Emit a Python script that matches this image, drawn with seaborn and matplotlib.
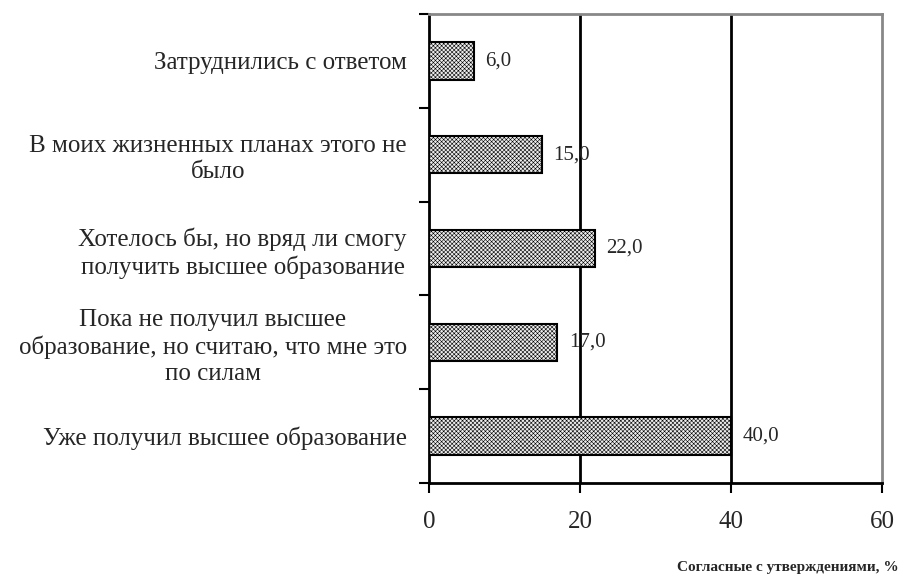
import matplotlib
matplotlib.use("Agg")
import matplotlib.pyplot as plt
import seaborn as sns
import pandas as pd
import numpy as np

categories = [
    "Затруднились с ответом",
    "В моих жизненных планах этого не\nбыло",
    "Хотелось бы, но вряд ли смогу\nполучить высшее образование",
    "Пока не получил высшее\nобразование, но считаю, что мне это\nпо силам",
    "Уже получил высшее образование",
]
values = [6.0, 15.0, 22.0, 17.0, 40.0]
value_labels = ["6,0", "15,0", "22,0", "17,0", "40,0"]
x_ticks = [0, 20, 40, 60]
x_title = "Согласные с утверждениями, %"

sns.set_theme(style="white")
plt.rcParams['font.family'] = ['Liberation Serif', 'DejaVu Serif']
plt.rcParams['hatch.color'] = '#a8a8a8'
plt.rcParams['hatch.linewidth'] = 0.4

df = pd.DataFrame({"cat": categories, "val": values})

fig = plt.figure(figsize=(9.02, 5.76), dpi=100)
ax = fig.add_axes([429/902, 1 - 483/576, (882-429)/902, (483-14)/576])

sns.barplot(data=df, x="val", y="cat", orient="h", ax=ax, width=0.4,
            color="#e0e0e0", edgecolor="black", linewidth=1.5, zorder=3)
for p in ax.patches:
    p.set_hatch("xxxxxxxx")
    p.set_facecolor("#ececec")
    p.set_edgecolor("black")

ax.set_xlim(0, 60)
ax.set_ylim(4.5, -0.5)
ax.set_xticks(x_ticks)
ax.set_xticklabels([str(t) for t in x_ticks], fontsize=18)
ax.tick_params(axis='x', direction='out', length=7, width=1.5, color='black', pad=13, bottom=True)

ax.set_yticks(range(len(categories)))
ax.set_yticklabels(categories, fontsize=18)
for lab in ax.get_yticklabels():
    lab.set_multialignment('center')
    lab.set_linespacing(1.25)
ax.tick_params(axis='y', length=0, pad=16)
ax.set_yticks(np.arange(-0.5, len(categories), 1.0), minor=True)
ax.tick_params(axis='y', which='minor', direction='out', length=7, width=1.5, color='black', left=True)

for xg in [20, 40]:
    ax.axvline(xg, color='black', lw=2, zorder=1)

for spine in ['left', 'bottom']:
    ax.spines[spine].set_color('black')
    ax.spines[spine].set_linewidth(2)
for spine in ['top', 'right']:
    ax.spines[spine].set_color('#888888')
    ax.spines[spine].set_linewidth(2)

for i, (v, s) in enumerate(zip(values, value_labels)):
    ax.text(v + 1.5, i, s, va='center', ha='left', fontsize=15, zorder=4)

ax.set_xlabel("")
ax.set_ylabel("")
fig.text(899/902, 1 - 567/576, x_title, ha='right', va='center', fontsize=11, fontweight='bold')

fig.savefig("out.png", dpi=100)
